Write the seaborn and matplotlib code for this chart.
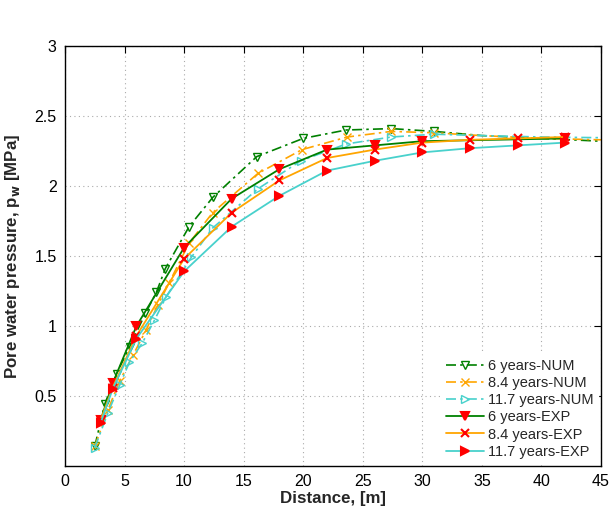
import numpy as np
import pandas as pd
import matplotlib
matplotlib.use("Agg")
import matplotlib.pyplot as plt
import seaborn as sns

# ---- data ----
num6_x = [2.5, 3.33, 4.33, 5.42, 6.75, 7.67, 8.42, 10.42, 12.42, 16.1, 20.0, 23.6, 27.4, 31.0, 35.0, 40.0, 45.0]
num6_y = [0.14, 0.44, 0.66, 0.85, 1.09, 1.24, 1.41, 1.71, 1.92, 2.21, 2.34, 2.40, 2.41, 2.39, 2.36, 2.34, 2.32]
num84_x = [2.5, 3.6, 4.6, 5.7, 6.8, 7.8, 8.75, 10.4, 12.4, 16.2, 19.9, 23.7, 27.4, 31.0, 35.0, 40.0, 45.0]
num84_y = [0.14, 0.40, 0.61, 0.79, 0.97, 1.15, 1.31, 1.59, 1.81, 2.09, 2.26, 2.35, 2.39, 2.38, 2.36, 2.34, 2.33]
num117_x = [2.5, 3.6, 4.6, 5.4, 6.5, 7.5, 8.5, 10.6, 12.4, 16.2, 19.8, 23.6, 27.4, 31.0, 35.0, 40.0, 45.0]
num117_y = [0.13, 0.38, 0.58, 0.74, 0.88, 1.04, 1.21, 1.49, 1.70, 1.98, 2.18, 2.30, 2.35, 2.37, 2.36, 2.35, 2.345]
num_marked = 14  # markers drawn on the first points only

exp6_x = [3, 4, 6, 10, 14, 18, 22, 26, 30, 42]
exp6_y = [0.33, 0.59, 1.00, 1.56, 1.91, 2.12, 2.26, 2.29, 2.32, 2.34]
exp84_x = [3, 4, 6, 10, 14, 18, 22, 26, 30, 34, 38, 42]
exp84_y = [0.33, 0.56, 0.93, 1.48, 1.81, 2.04, 2.20, 2.26, 2.31, 2.33, 2.34, 2.35]
exp117_x = [3, 4, 6, 10, 14, 18, 22, 26, 30, 34, 38, 42]
exp117_y = [0.31, 0.55, 0.91, 1.39, 1.71, 1.93, 2.11, 2.18, 2.24, 2.27, 2.29, 2.31]

labels = ["6 years-NUM", "8.4 years-NUM", "11.7 years-NUM",
          "6 years-EXP", "8.4 years-EXP", "11.7 years-EXP"]
xticks = [0, 5, 10, 15, 20, 25, 30, 35, 40, 45]
yticks = [0.5, 1, 1.5, 2, 2.5, 3]

green = "#008000"
orange = "#FFA500"
cyan = "#48D1CC"

sns.set_style("white")
plt.rcParams["font.family"] = ["Liberation Sans", "DejaVu Sans"]

fig = plt.figure(figsize=(6.11, 5.09), dpi=100)
ax = fig.add_axes([65 / 611, 1 - 466 / 509, 536 / 611, 420 / 509])

dashdot = (0, (6, 2.5, 1.5, 2.5))
num_series = [(num6_x, num6_y, green, "v"), (num84_x, num84_y, orange, "x"),
              (num117_x, num117_y, cyan, ">")]
for (xs, ys, c, m), lab in zip(num_series, labels[:3]):
    df = pd.DataFrame({"x": xs, "y": ys})
    kw = dict(marker=m, markersize=5.5, markevery=list(range(num_marked)),
              markeredgewidth=1.0)
    if m == "x":
        kw.update(markeredgecolor=c)
    else:
        kw.update(markerfacecolor="none", markeredgecolor=c)
    sns.lineplot(data=df, x="x", y="y", ax=ax, color=c, linestyle=dashdot,
                 linewidth=1.2, sort=False, estimator=None, label=lab, **kw)

exp_series = [(exp6_x, exp6_y, green, "v"), (exp84_x, exp84_y, orange, "x"),
              (exp117_x, exp117_y, cyan, ">")]
for (xs, ys, c, m), lab in zip(exp_series, labels[3:]):
    df = pd.DataFrame({"x": xs, "y": ys})
    sns.lineplot(data=df, x="x", y="y", ax=ax, color=c, linestyle="-",
                 linewidth=1.3, sort=False, estimator=None, label=lab,
                 marker=m, markersize=5.5, markerfacecolor="red",
                 markeredgecolor="red", markeredgewidth=1.5)

ax.set_xlim(0, 45)
ax.set_ylim(0, 3)
ax.set_xticks(xticks)
ax.set_xticklabels([str(t) for t in xticks])
ax.set_yticks(yticks)
ax.set_yticklabels(["0.5", "1", "1.5", "2", "2.5", "3"])
ax.grid(True, linestyle=(0, (1, 3)), color="#aaaaaa", linewidth=0.8)
ax.tick_params(direction="in", length=5, width=0.8, top=True, right=True,
               labelsize=11.5, colors="black", pad=6)
for s in ax.spines.values():
    s.set_visible(True)
    s.set_color("black")
    s.set_linewidth(1.0)

ax.set_xlabel("Distance, [m]", fontsize=12.2, fontweight="bold", labelpad=1)
ax.set_ylabel("Pore water pressure, p$_\\mathbf{w}$ [MPa]", fontsize=12.2,
              fontweight="bold", labelpad=9)

leg = ax.legend(loc="lower right", fontsize=10.5, frameon=True, framealpha=1,
                edgecolor="white", facecolor="white", handlelength=2.6,
                handletextpad=0.3, labelspacing=0.22, borderpad=0.3,
                borderaxespad=0.2, fancybox=False)

fig.savefig("out.png", dpi=100, facecolor="white")
